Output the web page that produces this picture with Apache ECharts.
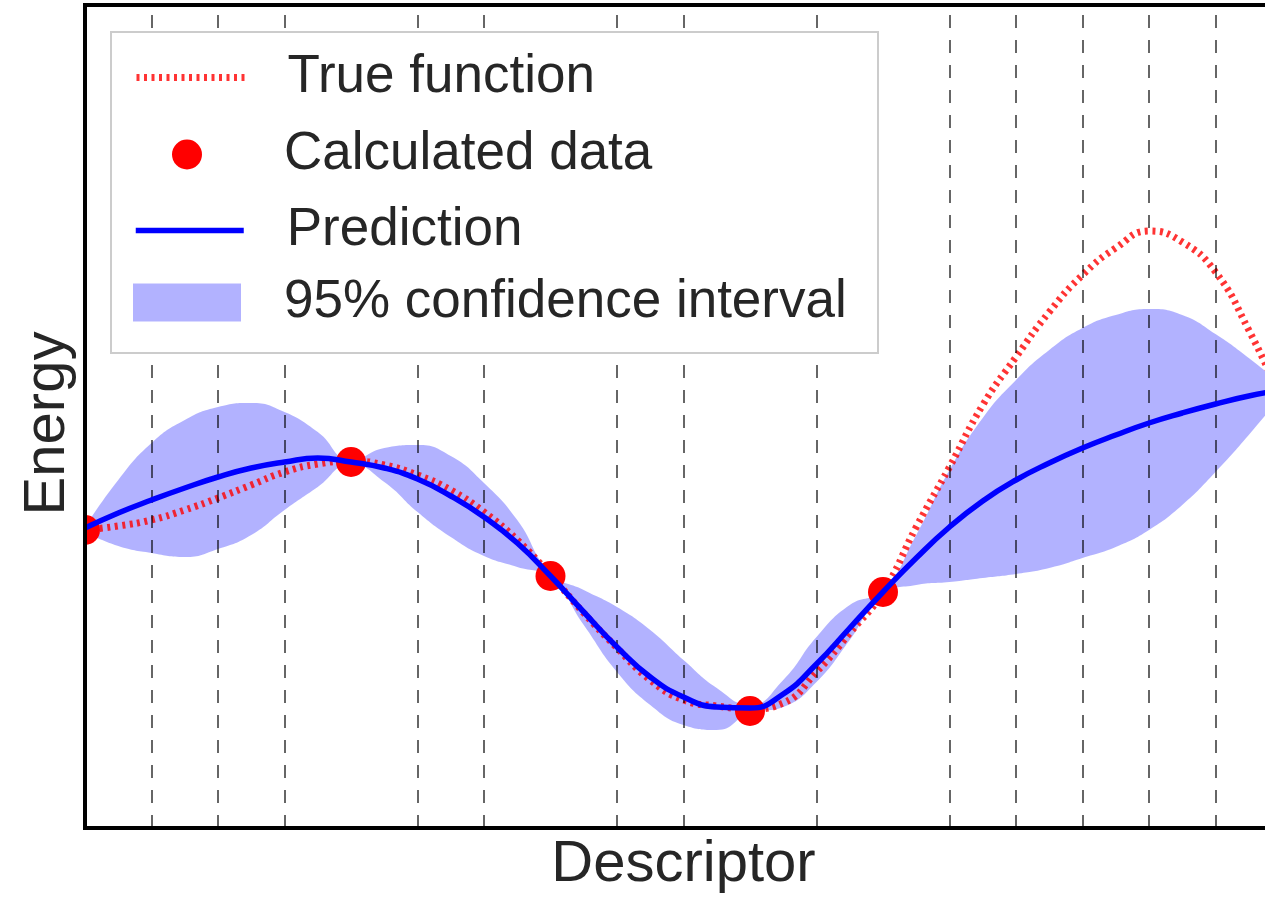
<!DOCTYPE html>
<html>
<head>
<meta charset="utf-8">
<title>GP fit</title>
<script src="https://cdn.jsdelivr.net/npm/echarts@6/dist/echarts.min.js"></script>
<style>
  html, body { margin: 0; padding: 0; background: #fff; }
  #chart { width: 1265px; height: 898px; }
</style>
</head>
<body>
<div id="chart"></div>
<script>
// descriptor positions (one grid step = 1)
const descriptor = ['0', '0.5', '1', '1.5', '2', '2.5', '3', '3.5', '4', '4.5', '5', '5.5', '6',
  '6.5', '7', '7.5', '8', '8.5', '9', '9.5', '10', '10.5', '11', '11.5', '12', '12.5', '13', '13.5',
  '14', '14.5', '15', '15.5', '16', '16.5', '17', '17.5', '18']

const trueFunction = [2.98, 3.02, 3.08, 3.18, 3.30, 3.43, 3.56, 3.64, 3.67, 3.63, 3.53, 3.38, 3.16,
  2.88, 2.53, 2.15, 1.80, 1.48, 1.28, 1.22, 1.19, 1.25, 1.56, 1.95, 2.36, 3.01, 3.61, 4.23, 4.71,
  5.16, 5.53, 5.80, 5.97, 5.86, 5.56, 4.98, 4.28]

const prediction = [3.00, 3.15, 3.28, 3.40, 3.51, 3.60, 3.66, 3.70, 3.66, 3.60, 3.49, 3.32, 3.11,
  2.85, 2.52, 2.16, 1.81, 1.51, 1.31, 1.21, 1.20, 1.34, 1.64, 2.00, 2.36, 2.70, 3.01, 3.27, 3.48,
  3.65, 3.80, 3.93, 4.05, 4.15, 4.24, 4.32, 4.38]

const ciUpper = [3.01, 3.48, 3.85, 4.08, 4.21, 4.25, 4.16, 3.96, 3.68, 3.80, 3.83, 3.72, 3.45,
  3.08, 2.55, 2.38, 2.21, 1.98, 1.68, 1.40, 1.23, 1.48, 1.91, 2.23, 2.38, 2.93, 3.58, 4.10, 4.48,
  4.78, 5.00, 5.13, 5.19, 5.13, 4.94, 4.70, 4.43]

const ciLower = [2.96, 2.82, 2.75, 2.71, 2.79, 2.93, 3.18, 3.41, 3.64, 3.46, 3.16, 2.91, 2.72,
  2.61, 2.50, 2.03, 1.56, 1.23, 1.03, 0.98, 1.15, 1.21, 1.46, 1.88, 2.34, 2.43, 2.46, 2.50, 2.54,
  2.60, 2.70, 2.81, 2.98, 3.23, 3.56, 3.93, 4.33]

const calcX = ['0', '4', '7', '10', '12']
const calcY = [2.98, 3.66, 2.52, 1.17, 2.36]

// dashed vertical grid lines
const gridTicks = ['1', '2', '3', '5', '6', '8', '9', '11', '13', '14', '15', '16', '17']

const chart = echarts.init(document.getElementById('chart'))

const font = 'Liberation Sans'
const legendBase = {
  orient: 'horizontal',
  left: 133,
  padding: 0,
  itemWidth: 108,
  itemHeight: 38,
  selectedMode: false,
  z: 60,
  textStyle: {
    fontSize: 53,
    color: '#262626',
    fontFamily: font,
    padding: [4, 0, 0, 38]
  }
}

const option = {
  animation: false,
  backgroundColor: '#fff',
  grid: {
    left: 85,
    top: 5,
    right: -17,
    bottom: 70,
    outerBoundsMode: 'none',
    show: true,
    z: 10,
    borderColor: '#000',
    borderWidth: 4,
    backgroundColor: 'transparent'
  },
  graphic: [
    {
      // white margin left of the frame, so marks are clipped at the axis like the original
      type: 'rect',
      z: 9,
      shape: { x: 0, y: 440, width: 83, height: 180 },
      style: { fill: '#fff' }
    },
    {
      type: 'rect',
      z: 50,
      shape: { x: 111, y: 32, width: 767, height: 321 },
      style: { fill: '#fff', stroke: '#cccccc', lineWidth: 2 }
    }
  ],
  legend: [
    Object.assign({}, legendBase, {
      top: 51,
      lineStyle: { width: 7 },
      data: [{ name: 'True function', itemStyle: { opacity: 0 } }]
    }),
    Object.assign({}, legendBase, { top: 128, left: 172, itemHeight: 30, data: ['Calculated data'] }),
    Object.assign({}, legendBase, {
      top: 204,
      lineStyle: { width: 5.5 },
      data: [{ name: 'Prediction', itemStyle: { opacity: 0 } }]
    }),
    Object.assign({}, legendBase, {
      top: 276,
      textStyle: Object.assign({}, legendBase.textStyle, { padding: [8, 0, 0, 38] }),
      data: [{ name: '95% confidence interval', icon: 'rect' }]
    })
  ],
  xAxis: {
    type: 'category',
    data: descriptor,
    boundaryGap: false,
    name: 'Descriptor',
    nameLocation: 'middle',
    nameGap: 8,
    nameTextStyle: { fontSize: 58, color: '#262626', fontFamily: font },
    axisLine: { show: false },
    axisTick: { show: false },
    axisLabel: { show: false },
    splitLine: { show: false }
  },
  yAxis: {
    type: 'value',
    min: 0,
    max: 8.23,
    z: 12,
    name: 'Energy',
    nameLocation: 'middle',
    nameGap: 8,
    nameTextStyle: { fontSize: 58, color: '#262626', fontFamily: font, padding: [0, 14, 0, 0] },
    axisLine: { show: false },
    axisTick: { show: false },
    axisLabel: { show: false },
    splitLine: { show: false }
  },
  series: [
    {
      name: 'ci-base',
      type: 'line',
      stack: 'ci',
      smooth: 0.5,
      symbol: 'none',
      silent: true,
      z: 1,
      lineStyle: { width: 0, opacity: 0 },
      data: ciLower,
      markLine: {
        silent: true,
        symbol: ['none', 'none'],
        label: { show: false },
        lineStyle: { type: [13, 12], color: 'rgba(0,0,0,0.6)', width: 2 },
        data: gridTicks.map(v => ({ xAxis: v }))
      }
    },
    {
      name: '95% confidence interval',
      type: 'line',
      stack: 'ci',
      smooth: 0.5,
      symbol: 'none',
      silent: true,
      z: 2,
      lineStyle: { width: 0, opacity: 0 },
      itemStyle: { color: 'rgba(0,0,255,0.3)' },
      areaStyle: { color: 'rgba(0,0,255,0.3)', opacity: 1 },
      data: ciUpper.map((u, i) => +(u - ciLower[i]).toFixed(3))
    },
    {
      name: 'Calculated data',
      type: 'scatter',
      symbolSize: 30,
      z: 3,
      itemStyle: { color: '#ff0000', opacity: 1 },
      data: calcX.map((x, i) => [x, calcY[i]])
    },
    {
      name: 'True function',
      type: 'line',
      smooth: 0.5,
      symbol: 'none',
      z: 4,
      itemStyle: { color: 'rgba(255,0,0,0.8)' },
      lineStyle: { color: 'rgba(255,0,0,0.8)', width: 7, type: [3, 4.5], cap: 'butt' },
      data: trueFunction
    },
    {
      name: 'Prediction',
      type: 'line',
      smooth: 0.5,
      symbol: 'none',
      z: 5,
      itemStyle: { color: '#0000ff' },
      lineStyle: { color: '#0000ff', width: 5.5 },
      data: prediction
    }
  ]
}

chart.setOption(option)
</script>
</body>
</html>
